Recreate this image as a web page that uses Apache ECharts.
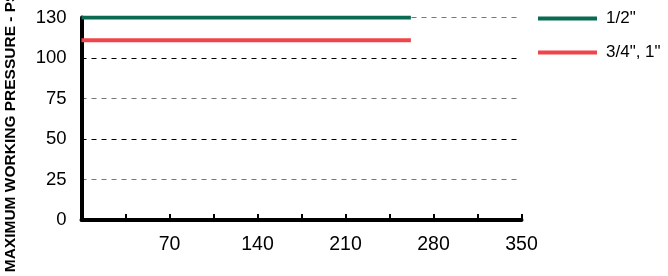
<!DOCTYPE html>
<html>
<head>
<meta charset="utf-8">
<script src="https://cdn.jsdelivr.net/npm/echarts@6/dist/echarts.min.js"></script>
<style>
  html, body { margin: 0; padding: 0; background: #fff; }
  #main { width: 668px; height: 276px; }
</style>
</head>
<body>
<div id="main"></div>
<script>
// data
var seriesNames = ['1/2"', '3/4", 1"'];
var seriesColors = ['#0b6a52', '#f0444a'];
// x where each rating line starts and stops
var xRange = [0, 262];
// pressure levels (axis units; the top gridline sits at 125 but is labelled 130)
var pressures = [125, 111];
var xTickLabels = { 70: '70', 140: '140', 210: '210', 280: '280', 350: '350' };
var yTickLabels = { 0: '0', 25: '25', 50: '50', 75: '75', 100: '100', 125: '130' };

var myChart = echarts.init(document.getElementById('main'));

var series = seriesNames.map(function (name, i) {
    return {
        name: name,
        type: 'line',
        symbol: 'none',
        color: seriesColors[i],
        lineStyle: { width: 4, color: seriesColors[i] },
        data: [[xRange[0], pressures[i]], [xRange[1], pressures[i]]],
        z: 5
    };
});

var option = {
    animation: false,
    textStyle: { fontFamily: 'Liberation Sans, Arial, sans-serif' },
    grid: { left: 81.5, right: 146.5, top: 17.5, bottom: 56, outerBoundsMode: 'none', containLabel: false },
    legend: {
        orient: 'vertical',
        left: 533,
        top: 5,
        itemWidth: 59,
        itemHeight: 14,
        itemGap: 17,
        icon: 'path://M0,0 L59,0 L59,4 L0,4 Z',
        textStyle: { fontSize: 17, color: '#000', padding: [0, 0, 0, 4] },
        data: seriesNames
    },
    xAxis: {
        type: 'value',
        min: 0,
        max: 350,
        interval: 35,
        axisLine: { show: true, lineStyle: { color: '#000', width: 4 } },
        axisTick: { show: true, inside: true, length: 6, lineStyle: { color: '#000', width: 2 } },
        axisLabel: {
            fontSize: 19.5, color: '#000', margin: 15,
            formatter: function (v) { return xTickLabels[v] || ''; }
        },
        splitLine: { show: false }
    },
    yAxis: {
        type: 'value',
        min: 0,
        max: 125,
        interval: 25,
        name: 'MAXIMUM WORKING PRESSURE - PSI',
        nameLocation: 'middle',
        nameRotate: 90,
        nameGap: 63,
        nameTextStyle: { fontSize: 15.5, fontWeight: 'bold', color: '#000', padding: [0, 22, 0, 0] },
        axisLine: { show: true, lineStyle: { color: '#000', width: 4 } },
        axisTick: { show: false },
        axisLabel: {
            fontSize: 18.5, color: '#000', margin: 15,
            formatter: function (v) { return yTickLabels[v] || ''; }
        },
        splitLine: {
            show: true,
            lineStyle: { color: ['#000', '#777'], type: [5, 5], width: 1 }
        }
    },
    series: series
};

myChart.setOption(option);
</script>
</body>
</html>
